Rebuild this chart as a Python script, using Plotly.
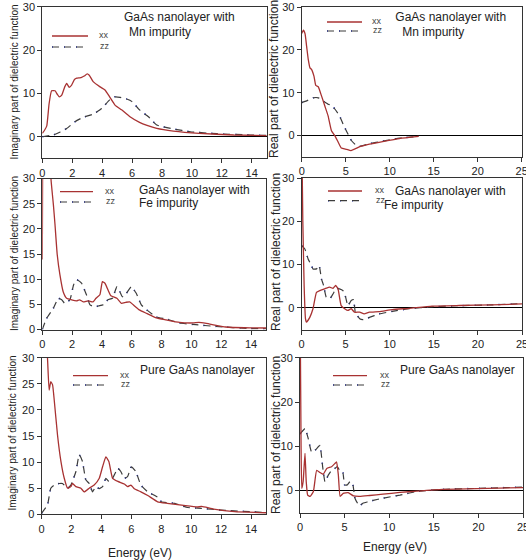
import plotly.graph_objects as go

W, H = 526, 560

# ---------------- data ----------------
# Mn impurity, imaginary part
mn_im_xx_e = [0, 0.15, 0.3, 0.45, 0.62, 0.85, 1.0, 1.14, 1.3, 1.5, 1.63, 1.8, 1.96, 2.15, 2.3, 2.5, 2.63, 2.8, 3.0, 3.14, 3.4, 3.86, 4.19, 4.5, 4.86, 5.3, 5.86, 6.5, 7.0, 7.65, 8.76, 10.5, 12.8, 15]
mn_im_xx = [0.8, 1.5, 2.5, 7.5, 10.6, 10.6, 9.8, 9.2, 9.6, 11.5, 12.3, 11.4, 11.9, 13.2, 13.5, 13.6, 13.7, 14.0, 14.5, 14.2, 12.7, 11.5, 10.8, 9.2, 7.3, 6.2, 4.6, 3.3, 2.6, 1.9, 1.3, 0.77, 0.4, 0.25]
mn_im_zz_e = [0, 0.74, 1.2, 1.63, 2.2, 2.74, 3.4, 3.97, 4.5, 4.86, 5.2, 5.64, 6.0, 6.5, 7.1, 7.65, 8.76, 9.9, 11.66, 13.9, 15]
mn_im_zz = [0, 0.4, 1.1, 1.9, 3.5, 4.5, 5.2, 6.5, 8.5, 9.2, 9.1, 8.7, 8.1, 6.2, 4.6, 2.7, 1.8, 1.15, 0.7, 0.4, 0.3]

# Mn impurity, real part
mn_re_xx_e = [0, 0.19, 0.38, 0.56, 0.75, 0.94, 1.13, 1.4, 1.6, 1.88, 2.26, 2.63, 3.0, 3.38, 3.76, 4.14, 4.5, 5.1, 5.6, 6.6, 7.7, 9.2, 11.1, 13.3]
mn_re_xx = [23.8, 24.6, 23.8, 20.8, 17.7, 15.8, 15.4, 13.8, 11.7, 11.4, 9.2, 6.9, 4.6, 1.15, 0, -1.5, -2.9, -3.2, -3.5, -2.6, -2.0, -1.4, -0.7, -0.2]
mn_re_zz_e = [0, 0.56, 1.3, 1.9, 2.4, 3.0, 3.4, 3.76, 4.3, 4.7, 5.15, 5.64, 6.2, 6.6, 7.7, 9.2, 11.1, 13.3]
mn_re_zz = [7.7, 8.1, 8.8, 8.8, 8.1, 7.3, 7.1, 6.2, 4.6, 2.7, 0.8, -1.15, -2.3, -2.5, -1.9, -1.3, -0.6, -0.2]

# Fe impurity, imaginary part
fe_im_xx_e = [0, 0.03, 0.3, 0.5, 0.58, 0.74, 0.85, 1.0, 1.18, 1.4, 1.63, 1.96, 2.3, 2.5, 2.74, 3.08, 3.4, 3.6, 3.86, 4.03, 4.2, 4.4, 4.6, 5.0, 5.3, 5.6, 5.86, 6.1, 6.5, 7.0, 7.65, 8.3, 9.2, 10.1, 10.5, 11.0, 12.3, 13.9, 15]
fe_im_xx = [13.9, 40, 70, 40, 30, 24.9, 20.9, 14.9, 10.9, 7.5, 6.2, 5.9, 5.7, 5.9, 5.5, 5.7, 5.5, 6.2, 6.9, 9.5, 9.2, 7.9, 6.7, 6.2, 5.2, 5.4, 5.5, 4.9, 3.9, 3.2, 2.3, 1.9, 1.4, 1.3, 1.4, 1.2, 0.5, 0.33, 0.3]
fe_im_zz_e = [0, 0.29, 0.74, 1.07, 1.3, 1.5, 1.85, 2.1, 2.3, 2.63, 2.96, 3.2, 3.5, 3.8, 4.08, 4.4, 4.7, 5.0, 5.2, 5.37, 5.64, 5.97, 6.3, 6.64, 7.0, 7.65, 8.3, 9.2, 10.1, 11.66, 13.9, 15]
fe_im_zz = [0, 2.2, 4.2, 6.2, 5.9, 5.2, 5.9, 8.9, 9.9, 9.2, 6.9, 4.9, 4.5, 4.7, 4.9, 5.9, 6.2, 8.5, 7.5, 6.5, 7.2, 8.5, 7.2, 4.9, 3.9, 2.5, 2.1, 1.3, 1.0, 0.6, 0.2, 0.15]

# Fe impurity, real part
fe_re_xx_e = [0, 0.15, 0.3, 0.45, 0.56, 0.94, 1.3, 1.7, 2.07, 2.63, 3.2, 3.57, 3.87, 4.14, 4.5, 4.9, 5.26, 5.64, 6.0, 6.6, 7.1, 7.7, 8.8, 10.3, 12.2, 14.8, 17.9, 21.6, 25]
fe_re_xx = [45, 20, 5, -2.5, -3.3, -2.2, -0.2, 3.6, 4.0, 4.4, 4.8, 4.5, 5.2, 4.4, 0.5, -0.2, -0.6, -0.2, -1.0, -1.0, -1.4, -1.0, -0.85, -0.4, -0.1, 0.4, 0.55, 0.7, 0.9]
fe_re_zz_e = [0, 0.38, 0.75, 1.13, 1.3, 1.7, 2.0, 2.26, 2.5, 2.8, 3.2, 3.57, 3.95, 4.3, 4.7, 5.0, 5.26, 5.64, 5.9, 6.1, 6.6, 7.0, 7.7, 8.8, 10.3, 12.2, 14.8, 17.9, 21.6, 25]
fe_re_zz = [14.4, 13.6, 11.3, 9.8, 9.0, 9.0, 9.8, 6.7, 5.2, 2.5, 2.1, 3.2, 4.5, 4.4, 4.0, 2.5, 0.5, 1.7, 1.9, -1.0, -2.5, -2.7, -2.2, -1.4, -0.8, -0.2, 0.25, 0.5, 0.7, 1.0]

# Pure GaAs, imaginary part
pu_im_xx_e = [0, 0.4, 0.51, 0.62, 0.74, 0.85, 1.07, 1.3, 1.52, 1.74, 1.96, 2.07, 2.3, 2.63, 2.85, 3.19, 3.52, 3.86, 4.08, 4.3, 4.5, 4.75, 5.1, 5.53, 5.75, 5.97, 6.2, 6.64, 7.1, 7.76, 8.4, 9.5, 10.4, 10.7, 11.5, 12.9, 15]
pu_im_xx = [50, 30, 23.8, 25.4, 24.8, 21.9, 15.2, 10.1, 6.9, 5.0, 5.3, 5.9, 5.3, 5.0, 4.3, 5.0, 5.6, 6.9, 9.1, 11.0, 10.1, 6.9, 6.3, 5.8, 5.3, 5.6, 4.9, 4.3, 3.6, 2.4, 2.1, 1.7, 1.4, 1.5, 1.0, 0.5, 0.3]
pu_im_zz_e = [0, 0.4, 0.62, 0.85, 1.18, 1.4, 1.74, 1.96, 2.3, 2.52, 2.74, 2.96, 3.19, 3.41, 3.63, 3.86, 4.08, 4.3, 4.5, 4.75, 5.1, 5.3, 5.53, 5.75, 6.0, 6.3, 6.64, 7.1, 7.5, 7.87, 8.0, 8.9, 9.76, 10.7, 12, 15]
pu_im_zz = [0.2, 1.8, 5.0, 5.6, 5.9, 5.9, 5.0, 5.6, 8.2, 11.4, 10.1, 6.6, 5.9, 4.3, 5.3, 4.9, 5.3, 6.9, 6.3, 6.9, 8.8, 8.2, 6.9, 7.2, 9.1, 8.2, 5.6, 4.3, 3.7, 3.1, 2.4, 2.1, 1.3, 1.15, 0.8, 0.35]

# Pure GaAs, real part
pu_re_xx_e = [0, 0.12, 0.2, 0.35, 0.56, 0.7, 0.86, 1.12, 1.5, 1.87, 2.24, 2.6, 3.0, 3.54, 3.9, 4.1, 4.3, 4.5, 4.85, 5.4, 6.0, 6.7, 7.8, 9.3, 11.2, 13.1, 16, 19.8, 25]
pu_re_xx = [45, 10, 0.5, 2, 8.4, 2, -1.0, -1.3, -0.2, 4.6, 4.1, 3.7, 5.0, 5.4, 6.1, 6.5, 3.5, -1.3, -0.6, -0.45, -1.2, -1.3, -1.1, -0.8, -0.4, -0.1, 0.3, 0.45, 0.7]
pu_re_zz_e = [0, 0.56, 0.93, 1.3, 1.68, 2.05, 2.24, 2.54, 2.8, 3.17, 3.54, 3.9, 4.2, 4.5, 4.8, 5.0, 5.3, 5.6, 5.9, 6.16, 6.64, 7.1, 7.65, 8.2, 9.3, 11.2, 13.1, 16, 19.8, 25]
pu_re_zz = [12.8, 14.0, 11.7, 8.7, 9.1, 9.9, 10.2, 5.4, 2.0, 3.5, 4.6, 5.0, 5.4, 4.3, 4.1, 1.3, 1.3, 2.0, 1.6, -1.7, -3.4, -2.8, -2.5, -2.2, -1.7, -1.0, -0.2, 0.3, 0.5, 0.8]

panel_titles = [["GaAs nanolayer with", "Mn impurity"], [" GaAs nanolayer with", " Mn impurity"],
                ["GaAs nanolayer with", "Fe impurity"], ["GaAs nanolayer with", "Fe impurity"],
                ["Pure GaAs nanolayer"], ["Pure GaAs nanolayer"]]
series_names = ["xx", "zz"]
imag_title = "Imaginary part of dielectric function"
real_title = "Real part of dielectric function"
x_title = "Energy (eV)"

# ---------------- styling / layout ----------------
XX_COLOR = "#A83232"
ZZ_COLOR = "#3C3C3C"
DOT_COLOR = "#1F2FD0"
FONT = "Liberation Sans, Arial, sans-serif"

def px(v):
    return v / W

def py(v):
    return 1 - v / H

# panels: (x-left, x-right, y-top, y-bottom) in pixels
panels = [
    dict(dom=(42.3, 266.7, 6.7, 158.4), xr=[0, 15], dx=2, yr=[-5, 30], dy=10,
         data=(mn_im_xx_e, mn_im_xx, mn_im_zz_e, mn_im_zz)),
    dict(dom=(301.7, 521.7, 7.0, 157.0), xr=[0, 25], dx=5, yr=[-5, 30], dy=10,
         data=(mn_re_xx_e, mn_re_xx, mn_re_zz_e, mn_re_zz)),
    dict(dom=(42.3, 266.0, 178.5, 329.5), xr=[0, 15], dx=2, yr=[0, 30], dy=5,
         data=(fe_im_xx_e, fe_im_xx, fe_im_zz_e, fe_im_zz)),
    dict(dom=(301.5, 522.0, 178.0, 329.5), xr=[0, 25], dx=5, yr=[-5, 30], dy=10,
         data=(fe_re_xx_e, fe_re_xx, fe_re_zz_e, fe_re_zz)),
    dict(dom=(41.5, 266.0, 357.7, 514.3), xr=[0, 15], dx=2, yr=[0, 30], dy=5,
         data=(pu_im_xx_e, pu_im_xx, pu_im_zz_e, pu_im_zz)),
    dict(dom=(300.0, 523.0, 357.7, 512.8), xr=[0, 25], dx=5, yr=[-5, 30], dy=10,
         data=(pu_re_xx_e, pu_re_xx, pu_re_zz_e, pu_re_zz)),
]

fig = go.Figure()
layout = dict(width=W, height=H, margin=dict(l=0, r=0, t=0, b=0, autoexpand=False),
              paper_bgcolor="white", plot_bgcolor="white", showlegend=False,
              font=dict(family=FONT, size=11, color="#222"))

for i, p in enumerate(panels):
    n = "" if i == 0 else str(i + 1)
    xl, xr_, yt, yb = p["dom"]
    axstyle = dict(showline=True, mirror=True, linecolor="#333", linewidth=1,
                   ticks="outside", ticklen=4, tickcolor="#333", tickwidth=1,
                   showgrid=False, ticklabeloverflow="allow",
                   tickfont=dict(size=11, color="#222", family=FONT))
    layout["xaxis" + n] = dict(domain=[px(xl), px(xr_)], range=p["xr"], dtick=p["dx"], tick0=0,
                               anchor="y" + n, zeroline=False, **axstyle)
    layout["yaxis" + n] = dict(domain=[py(yb), py(yt)], range=p["yr"], dtick=p["dy"], tick0=0,
                               anchor="x" + n, zeroline=True, zerolinecolor="#000",
                               zerolinewidth=1, **axstyle)
    ex, vx, ez, vz = p["data"]
    xa, ya = "x" + n, "y" + n
    fig.add_trace(go.Scatter(x=ez, y=vz, mode="lines", xaxis=xa, yaxis=ya, name="zz",
                             line=dict(color=DOT_COLOR, width=1.6, dash="1px,11px", shape="spline", smoothing=0.4)))
    fig.add_trace(go.Scatter(x=ez, y=vz, mode="lines", xaxis=xa, yaxis=ya, name="zz",
                             line=dict(color=ZZ_COLOR, width=1.2, dash="7px,5px", shape="spline", smoothing=0.4)))
    fig.add_trace(go.Scatter(x=ex, y=vx, mode="lines", xaxis=xa, yaxis=ya, name="xx",
                             line=dict(color=XX_COLOR, width=1.3, shape="spline", smoothing=0.4)))

fig.update_layout(**layout)

annotations = []
shapes = []

def text(x, y, s, size=12, xanchor="left", angle=0, color="#222"):
    annotations.append(dict(x=px(x), y=py(y), xref="paper", yref="paper", text=s, showarrow=False,
                            xanchor=xanchor, yanchor="middle", textangle=angle,
                            font=dict(size=size, family=FONT, color=color)))

# panel titles
title_pos = [[(122, 17), (127, 32)], [(390, 17), (397, 32)],
             [(137, 190), (137, 203.5)], [(393, 191), (382, 205.5)],
             [(138, 370)], [(398, 370)]]
for lines, poss in zip(panel_titles, title_pos):
    for s, (x, y) in zip(lines, poss):
        text(x, y, s)

# legend samples (xx solid, zz dashed)
legend_pos = [(52, 88, 36, 47, 97), (327, 362, 22, 31, 370), (60, 93, 191.7, 202, 103),
              (328, 362, 191, 200.7, 373), (73, 108, 375.7, 385, 118), (333, 367, 375.7, 385, 378)]
for (x0, x1, y1, y2, tx) in legend_pos:
    shapes.append(dict(type="line", xref="paper", yref="paper", x0=px(x0), x1=px(x1), y0=py(y1), y1=py(y1),
                       line=dict(color=XX_COLOR, width=1.3)))
    shapes.append(dict(type="line", xref="paper", yref="paper", x0=px(x0), x1=px(x1), y0=py(y2), y1=py(y2),
                       line=dict(color=DOT_COLOR, width=1.6, dash="1px,11px")))
    shapes.append(dict(type="line", xref="paper", yref="paper", x0=px(x0), x1=px(x1), y0=py(y2), y1=py(y2),
                       line=dict(color=ZZ_COLOR, width=1.2, dash="7px,5px")))
    text(tx, y1 - 1, series_names[0], size=9, color="#444")
    text(tx + 1, y2 - 1, series_names[1], size=9, color="#444")

# axis titles
text(14, 82.5, imag_title, size=10, xanchor="center", angle=-90)
text(15, 254, imag_title, size=10, xanchor="center", angle=-90)
text(12, 433.5, imag_title, size=10, xanchor="center", angle=-90)
text(274, 79, real_title, size=12, xanchor="center", angle=-90)
text(275.5, 252.5, real_title, size=12, xanchor="center", angle=-90)
text(275.5, 435.5, real_title, size=12, xanchor="center", angle=-90)
text(139.5, 553, x_title, size=12, xanchor="center")
text(394.5, 547, x_title, size=12, xanchor="center")

fig.update_layout(annotations=annotations, shapes=shapes)
fig.write_html("out.html", config={"displayModeBar": False},
               post_script="document.body.style.margin='0';document.body.style.overflow='hidden';")
